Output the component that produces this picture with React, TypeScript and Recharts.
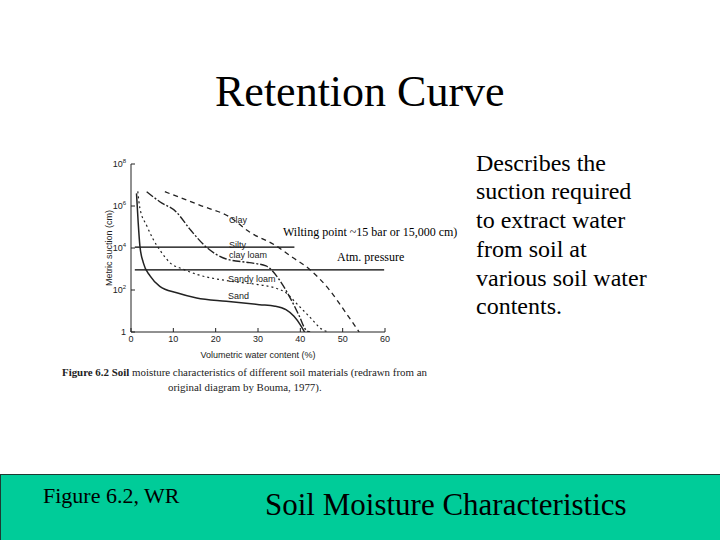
import React from "react";
import { LineChart, Line, XAxis, YAxis, ReferenceLine, Label } from "recharts";

// water content (%) and matric suction (cm)
const sandX = [1.3, 1.7, 2.1, 2.9, 4.5, 6.8, 10.8, 15.5, 22.5, 30.4, 34, 36.6, 38.5, 40, 41];
const sandY = [4e6, 1.6e5, 1.26e4, 2000, 470, 150, 74, 42, 29, 20, 17, 11.5, 5.6, 2.2, 1];

const sandyLoamX = [1.6, 2.1, 3.7, 5.2, 7.2, 9.2, 12.3, 15.5, 22.5, 30, 34, 36.6, 39, 42.1, 45.3, 46.6];
const sandyLoamY = [5e6, 7.9e5, 1.17e5, 2.7e4, 6200, 2000, 980, 560, 280, 180, 126, 74, 24, 5.5, 1.26, 1];

const siltyClayLoamX = [3.7, 6.8, 10.7, 13.9, 17.8, 22.5, 28, 31.9, 35, 37.4, 39.8, 41.3, 42.3];
const siltyClayLoamY = [4.8e6, 1.6e6, 5.2e5, 7.9e4, 1.1e4, 3000, 2000, 1400, 316, 50, 5.5, 1.26, 1];

const clayX = [8, 16.2, 23.3, 28, 34.3, 38.2, 42.1, 46.8, 50.8, 53.9];
const clayY = [4.8e6, 1.1e6, 3e5, 5.8e4, 1.26e4, 3500, 1000, 105, 8, 1];

const waterTicks = [0, 10, 20, 30, 40, 50, 60];
const suctionTicks = [1, 100, 1e4, 1e6, 1e8];

const wiltingPoint = 1.1e4;
const atmPressure = 900;

const toPoints = (xs: number[], ys: number[]) => xs.map((x, i) => ({ x, y: ys[i] }));

const sand = toPoints(sandX, sandY);
const sandyLoam = toPoints(sandyLoamX, sandyLoamY);
const siltyClayLoam = toPoints(siltyClayLoamX, siltyClayLoamY);
const clay = toPoints(clayX, clayY);

const SANS = "'Liberation Sans', Arial, sans-serif";
const SERIF = "'Liberation Serif', 'Times New Roman', serif";
const INK = "#222";

function SuctionTick({ x, y, payload }: any) {
  const exp = Math.round(Math.log10(payload.value));
  return (
    <text x={x} y={y} dy={3} textAnchor="end" fontSize={9} fill={INK} fontFamily={SANS}>
      {exp === 0 ? (
        "1"
      ) : (
        <>
          10
          <tspan dy={-4} fontSize={6}>
            {exp}
          </tspan>
        </>
      )}
    </text>
  );
}

const abs = (left: number, top: number, extra: React.CSSProperties = {}): React.CSSProperties => ({
  position: "absolute",
  left,
  top,
  whiteSpace: "nowrap",
  ...extra,
});

export default function App() {
  return (
    <div style={{ position: "absolute", left: 0, top: 0, width: 720, height: 540, background: "#fff", overflow: "hidden" }}>
      <div style={abs(215, 70, { fontFamily: SERIF, fontSize: 44, lineHeight: "44px", color: "#000" })}>
        Retention Curve
      </div>

      <LineChart
        width={720}
        height={540}
        margin={{ top: 164, right: 335, bottom: 178, left: 101 }}
        style={{ position: "absolute", left: 0, top: 0 }}
      >
        <XAxis
          type="number"
          dataKey="x"
          domain={[0, 60]}
          ticks={waterTicks}
          height={30}
          tickSize={-4}
          tickMargin={8}
          tick={{ fontSize: 9, fill: INK, fontFamily: SANS }}
          axisLine={{ stroke: INK }}
          tickLine={{ stroke: INK }}
        >
          <Label
            value="Volumetric water content (%)"
            position="insideBottom"
            offset={4}
            style={{ fontSize: 9, fill: INK, fontFamily: SANS }}
          />
        </XAxis>
        <YAxis
          type="number"
          dataKey="y"
          scale="log"
          domain={[1, 1e8]}
          allowDataOverflow
          ticks={suctionTicks}
          width={30}
          tickSize={-4}
          tickMargin={9}
          tick={<SuctionTick />}
          axisLine={{ stroke: INK }}
          tickLine={{ stroke: INK }}
        >
          <Label
            value="Metric suction (cm)"
            angle={-90}
            position="insideLeft"
            offset={8}
            style={{ fontSize: 9, fill: INK, fontFamily: SANS, textAnchor: "middle" }}
          />
        </YAxis>

        <ReferenceLine
          segment={[
            { x: 0.9, y: wiltingPoint },
            { x: 38.6, y: wiltingPoint },
          ]}
          stroke="#000"
          strokeWidth={1.2}
        />
        <ReferenceLine
          segment={[
            { x: 0.9, y: atmPressure },
            { x: 59.8, y: atmPressure },
          ]}
          stroke="#000"
          strokeWidth={1.2}
        />

        <Line data={clay} dataKey="y" type="monotone" stroke={INK} strokeWidth={1.3} strokeDasharray="5 4" dot={false} isAnimationActive={false} />
        <Line data={siltyClayLoam} dataKey="y" type="monotone" stroke={INK} strokeWidth={1.4} strokeDasharray="8 2 2 2" dot={false} isAnimationActive={false} />
        <Line data={sandyLoam} dataKey="y" type="monotone" stroke={INK} strokeWidth={1.2} strokeDasharray="2 3" dot={false} isAnimationActive={false} />
        <Line data={sand} dataKey="y" type="monotone" stroke={INK} strokeWidth={1.5} dot={false} isAnimationActive={false} />
      </LineChart>

      {/* curve names, drawn in the figure */}
      <div style={abs(229, 215, { fontFamily: SANS, fontSize: 9, color: INK })}>Clay</div>
      <div style={abs(229, 240, { fontFamily: SANS, fontSize: 9, color: INK, lineHeight: "10px" })}>
        Silty
        <br />
        clay loam
      </div>
      <div style={abs(228, 274, { fontFamily: SANS, fontSize: 9, color: INK })}>Sandy loam</div>
      <div style={abs(228, 291, { fontFamily: SANS, fontSize: 9, color: INK })}>Sand</div>

      <div style={abs(283, 225, { fontFamily: SERIF, fontSize: 12, lineHeight: "14px", color: "#000" })}>
        Wilting point ~15 bar or 15,000 cm)
      </div>
      <div style={abs(337, 250, { fontFamily: SERIF, fontSize: 12, lineHeight: "14px", color: "#000" })}>
        Atm. pressure
      </div>

      <div style={abs(62, 365, { fontFamily: SERIF, fontSize: 10.9, lineHeight: "14px", color: INK })}>
        <b>Figure 6.2 Soil</b> moisture characteristics of different soil materials (redrawn from an
      </div>
      <div style={abs(168, 380, { fontFamily: SERIF, fontSize: 10.9, lineHeight: "14px", color: INK })}>
        original diagram by Bouma, 1977).
      </div>

      <div style={abs(476, 148.5, { fontFamily: SERIF, fontSize: 24, lineHeight: "28.8px", color: "#000" })}>
        Describes the
        <br />
        suction required
        <br />
        to extract water
        <br />
        from soil at
        <br />
        various soil water
        <br />
        contents.
      </div>

      <div
        style={{
          position: "absolute",
          left: 0,
          top: 474,
          width: 720,
          height: 66,
          boxSizing: "border-box",
          background: "#00cc99",
          borderTop: "1px solid #1d3b33",
          borderLeft: "1px solid #1d3b33",
        }}
      />
      <div style={abs(43, 485, { fontFamily: SERIF, fontSize: 22, lineHeight: "22px", color: "#000" })}>
        Figure 6.2, WR
      </div>
      <div style={abs(265, 489, { fontFamily: SERIF, fontSize: 31, lineHeight: "31px", color: "#000" })}>
        Soil Moisture Characteristics
      </div>
    </div>
  );
}
